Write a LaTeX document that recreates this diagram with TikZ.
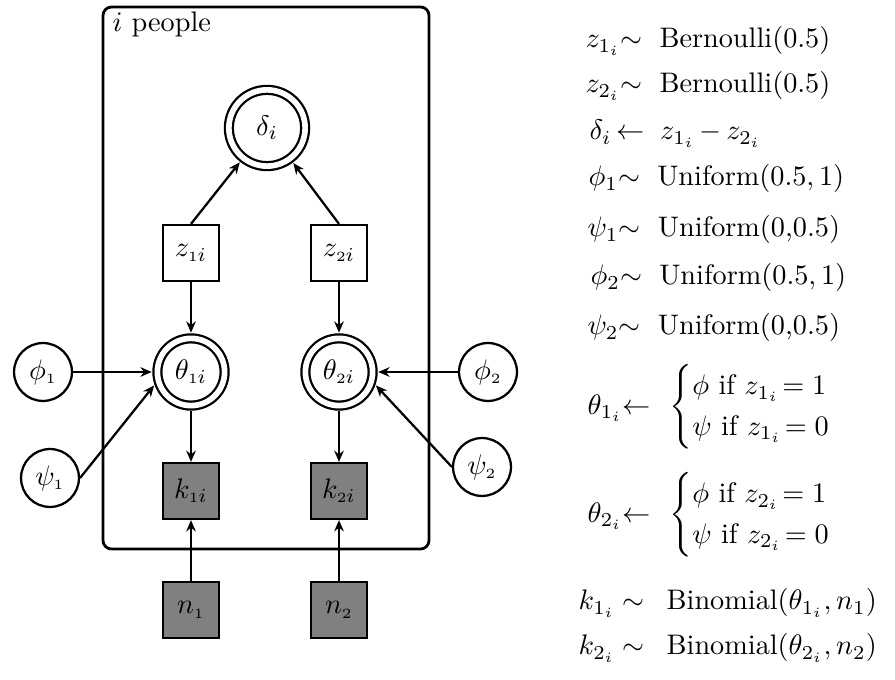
\documentclass[tikz,border=0pt]{standalone}
\usepackage{amsmath}
\usetikzlibrary{arrows.meta}

\begin{document}
\begin{tikzpicture}[
    x=0.354pt, y=-0.354pt,
    >={Stealth[length=4pt,width=3.4pt,inset=1.3pt]},
    every node/.style={inner sep=0pt},
    param/.style={circle, draw, thick, minimum size=20.5pt},
    derived/.style={circle, draw, thick, double, double distance=2pt, outer sep=2pt},
    discrete/.style={rectangle, draw, thick, minimum size=19.8pt},
    observed/.style={discrete, fill=black!50},
    edge/.style={->, thick},
    plate/.style={draw, line width=1pt, rounded corners=3pt},
    eqn/.style={anchor=base west},
    ]
    \useasboundingbox (0,0) rectangle (895,680);

    % plate over people
    \draw[plate] (103,7) rectangle (429,549);
    \node[anchor=base west] (platelabel) at (112,32) {$i$ people};

    % nodes inside the plate
    \node[derived, minimum size=27pt] (delta) at (267,128) {$\delta_i$};
    \node[discrete] (z1) at (191,253) {$z_{\scriptscriptstyle 1\scriptstyle i}$};
    \node[discrete] (z2) at (339,253) {$z_{\scriptscriptstyle 2\scriptstyle i}$};
    \node[derived, minimum size=23.8pt] (theta1) at (191,372) {$\theta_{\scriptscriptstyle 1\scriptstyle i}$};
    \node[derived, minimum size=23.8pt] (theta2) at (339,372) {$\theta_{\scriptscriptstyle 2\scriptstyle i}$};
    \node[observed] (k1) at (191,491) {$k_{\scriptscriptstyle 1\scriptstyle i}$};
    \node[observed] (k2) at (339,491) {$k_{\scriptscriptstyle 2\scriptstyle i}$};

    % nodes outside the plate
    \node[observed] (n1) at (191,610) {$n_{\scriptscriptstyle 1}$};
    \node[observed] (n2) at (339,610) {$n_{\scriptscriptstyle 2}$};
    \node[param] (phi1) at (43,372) {$\phi_{\scriptscriptstyle 1}$};
    \node[param] (psi1) at (50,478) {$\psi_{\scriptscriptstyle 1}$};
    \node[param] (phi2) at (488,372) {$\phi_{\scriptscriptstyle 2}$};
    \node[param] (psi2) at (482,467) {$\psi_{\scriptscriptstyle 2}$};

    % dependencies
    \draw[edge] (z1.north) -- (delta);
    \draw[edge] (z2.north) -- (delta);
    \draw[edge] (z1) -- (theta1);
    \draw[edge] (z2) -- (theta2);
    \draw[edge] (theta1) -- (k1);
    \draw[edge] (theta2) -- (k2);
    \draw[edge] (n1) -- (k1);
    \draw[edge] (n2) -- (k2);
    \draw[edge] (phi1) -- (theta1);
    \draw[edge] (psi1.east) -- (theta1.200);
    \draw[edge] (phi2) -- (theta2);
    \draw[edge] (psi2.west) -- (theta2.-20);

    % model definition
    \node[eqn] (eq1) at (585,48) {$z_{1_i}{\sim}\;$ Bernoulli(0.5)};
    \node[eqn] (eq2) at (585,93) {$z_{2_i}{\sim}\;$ Bernoulli(0.5)};
    \node[eqn] (eq3) at (589,140) {$\delta_i\,{\leftarrow}\;\;z_{1_i}\,{-}\,z_{2_i}$};
    \node[eqn] (eq4) at (588,186) {$\phi_1{\sim}\;$ Uniform$(0.5, 1)$};
    \node[eqn] (eq5) at (587,237) {$\psi_1{\sim}\;$ Uniform(0,0.5)};
    \node[eqn] (eq6) at (590,285) {$\phi_2{\sim}\;$ Uniform$(0.5, 1)$};
    \node[eqn] (eq7) at (587,335) {$\psi_2{\sim}\;$ Uniform(0,0.5)};
    \node[anchor=west] (eq8) at (587,407)
        {$\theta_{1_i}{\leftarrow}\ \,\begin{cases}\phi\text{ if }z_{1_i}\!=1\\ \psi\text{ if }z_{1_i}\!=0\end{cases}$};
    \node[anchor=west] (eq9) at (587,515)
        {$\theta_{2_i}{\leftarrow}\ \,\begin{cases}\phi\text{ if }z_{2_i}\!=1\\ \psi\text{ if }z_{2_i}\!=0\end{cases}$};
    \node[eqn] (eq10) at (578,610) {$k_{1_i}\sim\enspace\text{Binomial}(\theta_{1_i}, n_1)$};
    \node[eqn] (eq11) at (578,655) {$k_{2_i}\sim\enspace\text{Binomial}(\theta_{2_i}, n_2)$};
\end{tikzpicture}
\end{document}
